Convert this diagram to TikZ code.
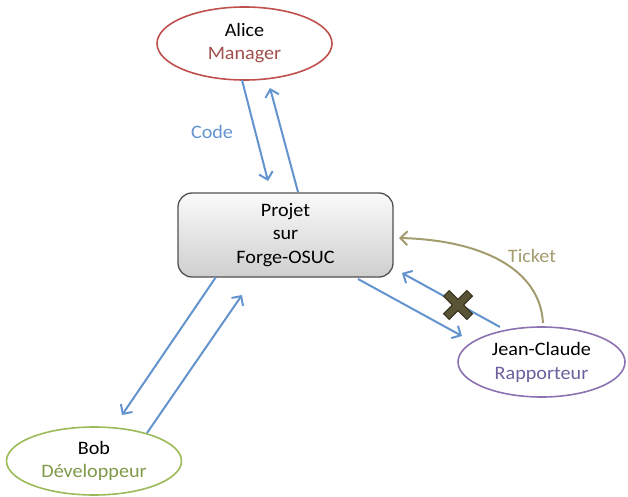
\documentclass[tikz,border=0pt]{standalone}
\usepackage{fontspec}
\setmainfont[FakeStretch=1.06]{Carlito}
\usetikzlibrary{arrows.meta,shapes.geometric}
\definecolor{alicered}{HTML}{C0504D}
\definecolor{alicetxt}{HTML}{A0504D}
\definecolor{bobgreen}{HTML}{9BBB59}
\definecolor{bobtxt}{HTML}{7F9A48}
\definecolor{jcpurple}{HTML}{8C72B0}
\definecolor{jctxt}{HTML}{6E5F9E}
\definecolor{flowblue}{HTML}{6394CE}
\definecolor{ticketol}{HTML}{A39C6E}
\definecolor{crossfill}{HTML}{5A5436}
\definecolor{crossedge}{HTML}{37321F}
\definecolor{boxedge}{HTML}{505050}
\tikzset{
  actor/.style={ellipse, draw, line width=1.6pt, fill=white, inner sep=0pt,
    align=center, font=\fontsize{19}{24}\selectfont},
  projbox/.style={rectangle, rounded corners=14pt, draw=boxedge, line width=1.3pt,
    top color=gray!4, bottom color=gray!38, minimum width=215pt, minimum height=84pt,
    align=center, font=\fontsize{19}{23.5}\selectfont},
  flow/.style={draw=flowblue, line width=2pt,
    -{Straight Barb[length=7pt,width=14pt]}},
  ticketflow/.style={draw=ticketol, line width=2pt,
    -{Straight Barb[length=7pt,width=14pt]}},
  lbl/.style={font=\fontsize{19}{24}\selectfont}
}
\begin{document}
\begin{tikzpicture}[x=1pt,y=-1pt]
\useasboundingbox (0,0) rectangle (628,497);

\node[actor, draw=alicered, minimum width=175pt, minimum height=73pt] (alice) at (244.5,43.5)
  {\raisebox{-3pt}{\begin{tabular}{@{}c@{}}Alice\\[-1pt]\textcolor{alicetxt}{Manager}\end{tabular}}};
\node[projbox] (proj) at (285.5,235) {Projet\\sur\\Forge-OSUC};
\node[actor, draw=jcpurple, minimum width=167pt, minimum height=70pt] (jc) at (541.5,362)
  {Jean-Claude\\\textcolor{jctxt}{Rapporteur}};
\node[actor, draw=bobgreen, minimum width=175pt, minimum height=68pt] (bob) at (94,461)
  {\raisebox{-2pt}{\begin{tabular}{@{}c@{}}Bob\\[-1pt]\textcolor{bobtxt}{Développeur}\end{tabular}}};

% connector end points
\coordinate (a1) at (242,80);
\coordinate (p1) at (268,181);
\coordinate (p2) at (298,192);
\coordinate (a2) at (270,88);
\coordinate (p3) at (216,277);
\coordinate (b1) at (122,415);
\coordinate (b2) at (147,433);
\coordinate (p4) at (242,295);
\coordinate (p5) at (358,279);
\coordinate (j1) at (462,336);
\coordinate (j2) at (500,327);
\coordinate (p6) at (402,273);
\coordinate (j3) at (543,323);
\coordinate (p7) at (399,238);

\draw[flow] (a1) -- (p1);
\draw[flow] (p2) -- (a2);
\draw[flow] (p3) -- (b1);
\draw[flow] (b2) -- (p4);
\draw[flow] (p5) -- (j1);
\draw[flow] (j2) -- (p6);
\draw[ticketflow] (j3) .. controls (540,268) and (480,240) .. (p7);

\node[lbl, text=flowblue] (code) at (212,132) {Code};
\node[lbl, text=ticketol] (ticket) at (532,256) {Ticket};

% cross over the blocked arrow
\draw[crossedge, line width=9pt] (446,293) -- (470,317) (470,293) -- (446,317);
\draw[crossfill, line width=6.5pt] (446.8,293.8) -- (469.2,316.2) (469.2,293.8) -- (446.8,316.2);
\end{tikzpicture}
\end{document}
